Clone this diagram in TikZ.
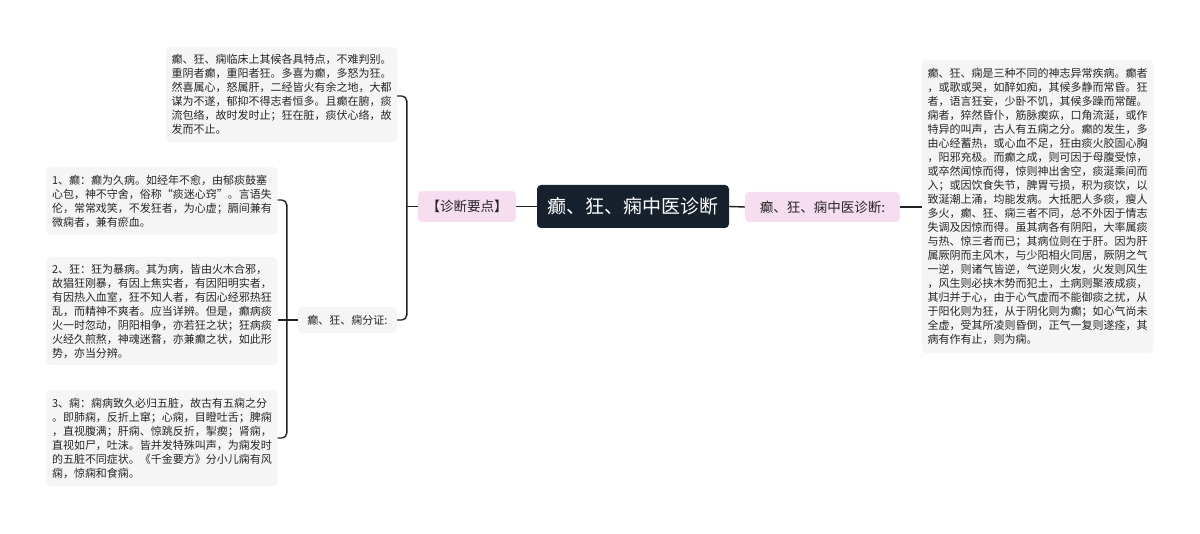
\documentclass[tikz,border=0pt]{standalone}
\usepackage{fontspec}
\setmainfont{Noto Sans CJK SC}
\definecolor{rootc}{HTML}{17212E}
\definecolor{pinkc}{HTML}{F6DDF0}
\definecolor{grayc}{HTML}{F5F5F5}
\definecolor{linec}{HTML}{222222}
\begin{document}
\begin{tikzpicture}[x=1pt,y=-1pt,
  txtbox/.style={fill=grayc, rounded corners=4pt, align=left, inner xsep=5.5pt, inner ysep=0pt,
    text width=220pt, minimum width=231pt, font=\fontsize{11}{14}\selectfont, text=black!85},
  pinkbox/.style={fill=pinkc, rounded corners=4pt, inner sep=0pt, font=\fontsize{13.5}{16}\selectfont, text=black!85},
  smallbox/.style={fill=grayc, rounded corners=4pt, inner sep=0pt, font=\fontsize{11}{14}\selectfont, text=black!85},
  rootbox/.style={fill=rootc, rounded corners=4pt, inner sep=0pt, text=white, font=\fontsize{19}{22}\selectfont},
  conn/.style={draw=linec, line width=1.4pt, rounded corners=5pt}]
\useasboundingbox (0,0) rectangle (1200,534);

\node[rootbox, minimum width=192pt, minimum height=43pt] (root) at (633,206.5) {癫、狂、痫中医诊断};
\node[pinkbox, minimum width=98pt, minimum height=31pt] (zdyd) at (467,206.5) {【诊断要点】};
\node[pinkbox, minimum width=155pt, minimum height=30pt] (zyzd) at (822.5,207) {癫、狂、痫中医诊断:};

\node[txtbox, minimum height=293pt] (rbox) at (1037.5,206.5) {癫、狂、痫是三种不同的神志异常疾病。癫者\\，或歌或哭，如醉如痴，其候多静而常昏。狂\\者，语言狂妄，少卧不饥，其候多躁而常醒。\\痫者，猝然昏仆，筋脉瘈疭，口角流涎，或作\\特异的叫声，古人有五痫之分。癫的发生，多\\由心经蓄热，或心血不足，狂由痰火胶固心胸\\，阳邪充极。而癫之成，则可因于母腹受惊，\\或卒然闻惊而得，惊则神出舍空，痰涎乘间而\\入；或因饮食失节，脾胃亏损，积为痰饮，以\\致涎潮上涌，均能发病。大抵肥人多痰，瘦人\\多火，癫、狂、痫三者不同，总不外因于情志\\失调及因惊而得。虽其病各有阴阳，大率属痰\\与热、惊三者而已；其病位则在于肝。因为肝\\属厥阴而主风木，与少阳相火同居，厥阴之气\\一逆，则诸气皆逆，气逆则火发，火发则风生\\，风生则必挟木势而犯土，土病则聚液成痰，\\其归并于心，由于心气虚而不能御痰之扰，从\\于阳化则为狂，从于阴化则为癫；如心气尚未\\全虚，受其所凌则昏倒，正气一复则遂痊，其\\病有作有止，则为痫。};

\node[txtbox, minimum height=95pt] (tbox) at (281.5,94.5) {癫、狂、痫临床上其候各具特点，不难判别。\\重阴者癫，重阳者狂。多喜为癫，多怒为狂。\\然喜属心，怒属肝，二经皆火有余之地，大都\\谋为不遂，郁抑不得志者恒多。且癫在腑，痰\\流包络，故时发时止；狂在脏，痰伏心络，故\\发而不止。};

\node[smallbox, minimum width=99pt, minimum height=26pt] (fz) at (347.5,320) {癫、狂、痫分证:};

\node[txtbox, minimum height=68pt] (b1) at (162,201) {1、癫：癫为久病。如经年不愈，由郁痰鼓塞\\心包，神不守舍，俗称“痰迷心窍”。言语失\\伦，常常戏笑，不发狂者，为心虚；膈间兼有\\微痫者，兼有瘀血。};

\node[txtbox, minimum height=108pt] (b2) at (162,311) {2、狂：狂为暴病。其为病，皆由火木合邪，\\故猖狂刚暴，有因上焦实者，有因阳明实者，\\有因热入血室，狂不知人者，有因心经邪热狂\\乱，而精神不爽者。应当详辨。但是，癫病痰\\火一时忽动，阴阳相争，亦若狂之状；狂病痰\\火经久煎熬，神魂迷瞀，亦兼癫之状，如此形\\势，亦当分辨。};

\node[txtbox, minimum height=96pt] (b3) at (162,438) {3、痫：痫病致久必归五脏，故古有五痫之分\\。即肺痫，反折上窜；心痫，目瞪吐舌；脾痫\\，直视腹满；肝痫、惊跳反折，掣瘈；肾痫，\\直视如尸，吐沫。皆并发特殊叫声，为痫发时\\的五脏不同症状。《千金要方》分小儿痫有风\\痫，惊痫和食痫。};

% connectors
\draw[conn] (root.east) -- (zyzd.west);
\draw[conn] (zyzd.east) -- (rbox.west |- zyzd.east);
\draw[conn] (root.west) -- (zdyd.east);
\draw[conn] (zdyd.west) -- ([xshift=-11pt]zdyd.west);
\draw[conn] (tbox.east |- 0,96) -| ([xshift=-11pt]zdyd.west) |- (fz.east);
\draw[conn] (fz.west) -- ([xshift=-11pt]fz.west);
\draw[conn] (b1.east |- 0,200) -| ([xshift=-11pt]fz.west) |- (b3.east |- 0,438);
\draw[conn] ([xshift=-11pt]fz.west) -- (b2.east |- fz.west);
\end{tikzpicture}
\end{document}
